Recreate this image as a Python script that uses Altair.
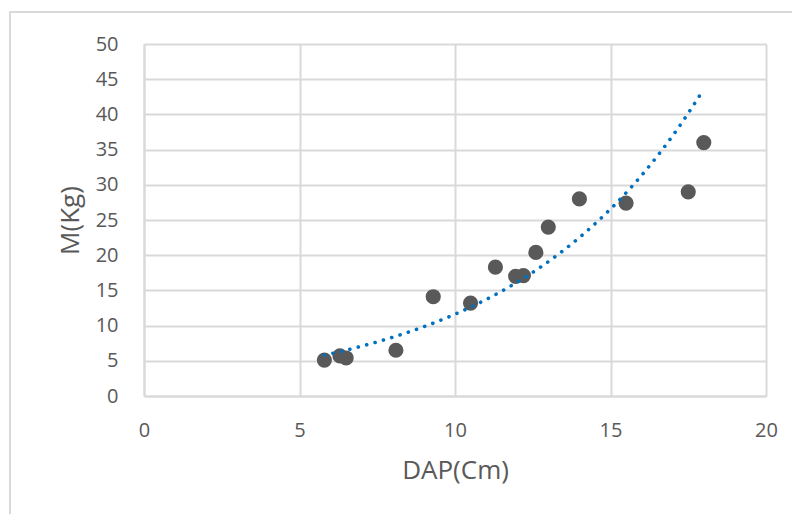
import altair as alt
import numpy as np
import pandas as pd

dap = [5.8, 6.3, 6.5, 8.1, 9.3, 10.5, 11.3, 11.95, 12.2, 12.6, 13.0, 14.0, 15.5, 17.5, 18.0]
mass = [5.1, 5.7, 5.4, 6.5, 14.1, 13.2, 18.3, 17.0, 17.1, 20.4, 24.0, 28.0, 27.4, 29.0, 36.0]
x_ticks = [0, 5, 10, 15, 20]
y_ticks = [0, 5, 10, 15, 20, 25, 30, 35, 40, 45, 50]

df = pd.DataFrame({"DAP": dap, "M": mass})

# Excel-style exponential trendline: least squares on ln(M)
b, ln_a = np.polyfit(np.array(dap), np.log(np.array(mass)), 1)

GRID = "#D9D9D9"
TXT = "#595959"
FONT = "Open Sans"

xs = alt.Scale(domain=[0, 20], nice=False)
ys = alt.Scale(domain=[0, 50], nice=False)
X = alt.X("DAP:Q", scale=xs, title="DAP(Cm)",
          axis=alt.Axis(values=x_ticks, labelOverlap=False, labelFlush=False))
Y = alt.Y("M:Q", scale=ys, title="M(Kg)",
          axis=alt.Axis(values=y_ticks, labelOverlap=False, labelFlush=False))

frame = alt.Chart(df).mark_rect(fill=None, stroke=GRID, strokeWidth=1.5).encode(
    x=alt.value(-134), x2=alt.value(700), y=alt.value(-32), y2=alt.value(520)
)

pts = alt.Chart(df).mark_circle(size=230, color="#595959", opacity=1).encode(x=X, y=Y)

trend = alt.Chart(alt.sequence(min(dap), max(dap) + 0.001, 0.05, as_="DAP")).transform_calculate(
    M=f"exp({ln_a} + {b} * datum.DAP)"
).mark_line(
    color="#0070C0", strokeWidth=3.6, strokeDash=[0.1, 8.6], strokeCap="round"
).encode(x=X, y=Y)

chart = alt.layer(frame, pts, trend).properties(
    width=622, height=352,
    autosize=alt.AutoSizeParams(type="none"),
    padding={"left": 136, "top": 36, "right": 26, "bottom": 118},
).configure_view(stroke=None).configure_axis(
    grid=True, gridColor=GRID, gridWidth=2,
    domainColor=GRID, domainWidth=2,
    ticks=False,
    labelFont=FONT, labelFontSize=20, labelColor=TXT,
    titleFont=FONT, titleFontSize=26, titleColor=TXT, titleFontWeight="normal",
).configure_axisX(labelPadding=24, titlePadding=17).configure_axisY(
    labelPadding=26, titlePadding=12
)

chart.save("out.html", embed_options={"renderer": "svg", "actions": False})
